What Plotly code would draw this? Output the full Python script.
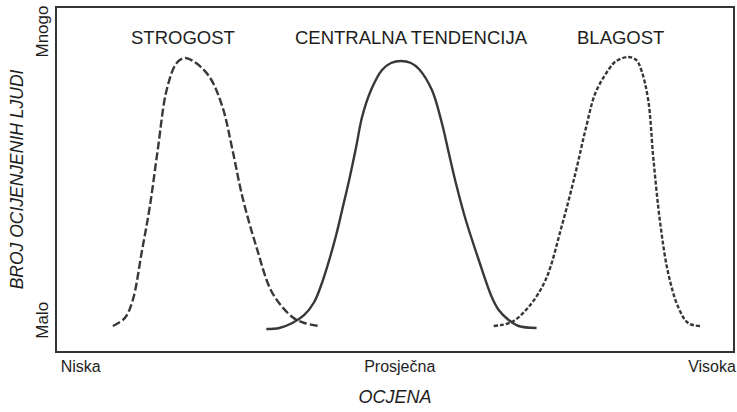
import plotly.graph_objects as go

# Rating scale (0 = low, 100 = high) and number of rated people (0 = few, 100 = many)
strogost_x = [8.26, 10.03, 11.21, 12.54, 13.72, 14.90, 16.22, 17.70, 18.88, 20.35, 22.57, 24.48,
              25.96, 27.43, 29.50, 31.86, 34.81, 36.58, 38.79]
strogost_y = [7.29, 9.62, 14.87, 28.9, 41.98, 58.6, 76.09, 83.97, 85.42, 84.26, 79.88, 71.14,
              58.6, 44.9, 30.32, 16.91, 9.91, 8.16, 7.29]

central_x = [30.97, 32.89, 34.81, 36.58, 38.05, 39.09, 40.27, 41.30, 42.18, 43.22, 44.25, 45.13,
             46.46, 48.08, 49.41, 50.88, 52.36, 53.54, 55.46, 56.93, 57.96, 59.00, 60.47, 62.39,
             64.31, 65.34, 66.81, 68.29, 70.94]
central_y = [6.41, 6.71, 8.16, 10.50, 14.29, 19.24, 26.53, 33.82, 41.11, 49.85, 59.48, 68.22,
             76.09, 81.92, 83.97, 84.55, 83.97, 82.22, 76.09, 66.47, 57.73, 48.98, 38.19, 26.53,
             15.74, 11.95, 9.04, 7.29, 6.71]

blagost_x = [64.60, 67.26, 69.76, 72.27, 74.63, 76.70, 78.17, 79.65, 81.56, 82.74, 84.51, 85.69,
             86.43, 87.46, 88.20, 89.23, 90.41, 91.89, 93.36, 95.13]
blagost_y = [7.29, 8.45, 12.83, 20.70, 36.15, 51.90, 64.43, 75.22, 81.92, 84.55, 85.71, 84.84,
             81.92, 73.18, 56.56, 37.32, 22.74, 12.83, 8.16, 7.29]

curve_labels = ["STROGOST", "CENTRALNA TENDENCIJA", "BLAGOST"]
label_x = [18.7, 52.4, 83.4]
label_y = [91.5, 91.5, 91.5]

x_tick_vals = [3.5, 50.7, 96.9]
x_tick_text = ["Niska", "Prosječna", "Visoka"]
y_tick_vals = [8.2, 92.4]
y_tick_text = ["Malo", "Mnogo"]

FONT = "Liberation Sans, Arial, sans-serif"
INK = "#383838"
TXT = "#1e1e1e"

fig = go.Figure()
fig.add_trace(go.Scatter(x=strogost_x, y=strogost_y, mode="lines",
                         line=dict(color=INK, width=2.4, dash="8px,3px", shape="spline", smoothing=1.0),
                         hoverinfo="skip", showlegend=False))
fig.add_trace(go.Scatter(x=central_x, y=central_y, mode="lines",
                         line=dict(color=INK, width=2.4, shape="spline", smoothing=1.0),
                         hoverinfo="skip", showlegend=False))
fig.add_trace(go.Scatter(x=blagost_x, y=blagost_y, mode="lines",
                         line=dict(color=INK, width=2.4, dash="4px,2px", shape="spline", smoothing=1.0),
                         hoverinfo="skip", showlegend=False))

for t, x, y in zip(curve_labels, label_x, label_y):
    fig.add_annotation(x=x, y=y, text=t, showarrow=False, xanchor="center", yanchor="middle",
                       font=dict(family=FONT, size=18.5, color=TXT))

fig.update_layout(
    width=737, height=412,
    margin=dict(l=57, r=2, t=8, b=61),
    paper_bgcolor="white", plot_bgcolor="white",
    font=dict(family=FONT, color=TXT),
)
fig.update_xaxes(range=[0, 100], showgrid=False, zeroline=False,
                 showline=True, mirror=True, linecolor="#333", linewidth=1.5,
                 tickmode="array", tickvals=x_tick_vals, ticktext=x_tick_text, ticks="",
                 tickfont=dict(family=FONT, size=16, color=TXT),
                 title=dict(text="<i>OCJENA</i>", font=dict(family=FONT, size=18, color=TXT), standoff=16))
fig.update_yaxes(range=[0, 100], showgrid=False, zeroline=False,
                 showline=True, mirror=True, linecolor="#333", linewidth=1.5,
                 tickmode="array", tickvals=y_tick_vals, ticktext=y_tick_text, ticks="",
                 tickangle=-90,
                 tickfont=dict(family=FONT, size=17, color=TXT),
                 title=dict(text="<i>BROJ OCIJENJENIH LJUDI</i>", font=dict(family=FONT, size=17.5, color=TXT), standoff=5))

fig.write_html("out.html", config={"displayModeBar": False},
               post_script="document.body.style.margin='0';document.body.style.overflow='hidden';")
